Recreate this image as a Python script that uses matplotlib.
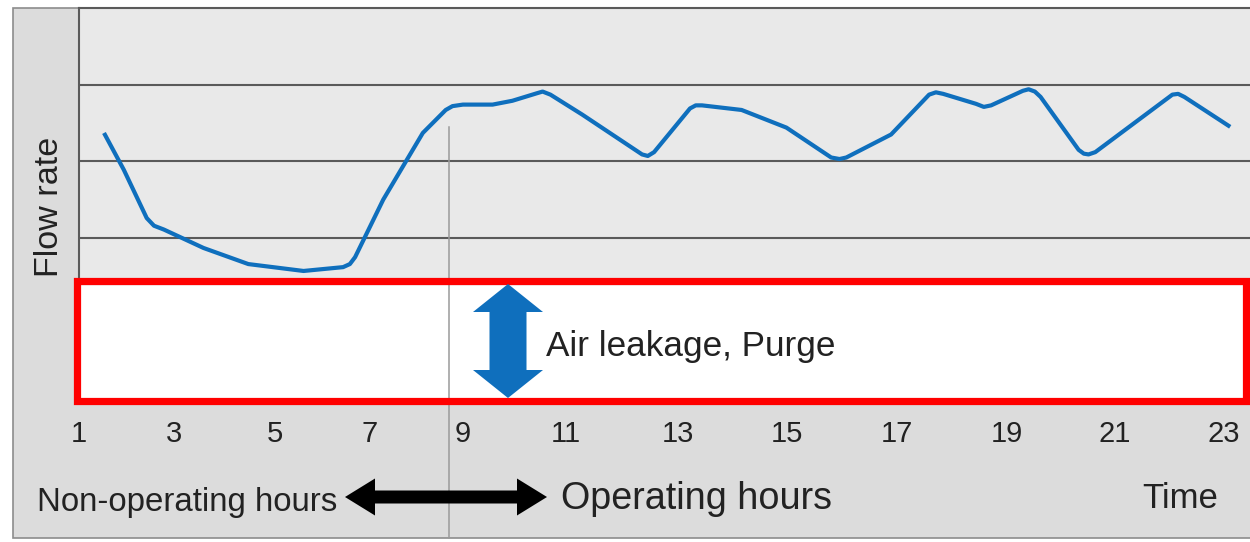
import numpy as np
import matplotlib.pyplot as plt
import matplotlib.patches as mpatches

plt.rcParams['font.family'] = ['Liberation Sans', 'DejaVu Sans']

# flow curve (hour of day, flow rate in grid units)
hours = [1.48, 1.86, 2.30, 2.44, 2.63, 3.39, 4.25, 5.31, 6.07, 6.20, 6.30, 6.84,
         7.60, 8.04, 8.17, 8.37, 8.94, 9.32, 9.80, 9.90, 10.05, 10.66, 11.81, 11.92,
         12.04, 12.73, 12.84, 12.96, 13.72, 14.58, 15.44, 15.60, 15.73, 16.59, 17.32,
         17.45, 17.59, 18.22, 18.37, 18.51, 19.12, 19.23, 19.35, 19.46, 20.19, 20.29,
         20.38, 20.51, 21.99, 22.10, 22.22, 23.10]
flow = [2.37, 1.89, 1.26, 1.16, 1.11, 0.87, 0.66, 0.57, 0.62, 0.66, 0.75, 1.50,
        2.37, 2.67, 2.72, 2.74, 2.74, 2.79, 2.89, 2.91, 2.87, 2.61, 2.09, 2.07,
        2.12, 2.69, 2.73, 2.73, 2.67, 2.44, 2.05, 2.03, 2.05, 2.35, 2.87,
        2.90, 2.88, 2.75, 2.71, 2.73, 2.92, 2.94, 2.91, 2.84, 2.15, 2.10,
        2.09, 2.12, 2.87, 2.88, 2.84, 2.45]

tick_pos = [1.0, 2.82, 4.77, 6.57, 8.37, 10.34, 12.50, 14.60, 16.71, 18.81, 20.88, 22.98]
tick_labels = ['1', '3', '5', '7', '9', '11', '13', '15', '17', '19', '21', '23']
grid_levels = [1, 2, 3]
op_start = 8.10

blue = '#0f6fbd'
dark = '#222222'

fig = plt.figure(figsize=(12.5, 5.42), dpi=100)
fig.patch.set_facecolor('white')

# background layer in pixel units
bg = fig.add_axes([0, 0, 1, 1], zorder=0)
bg.set_xlim(0, 1250)
bg.set_ylim(542, 0)
bg.axis('off')
bg.add_patch(mpatches.Rectangle((12.5, 8), 1250, 529.5, facecolor='#dcdcdc',
                                edgecolor='#8c8c8c', lw=1.2))
bg.add_patch(mpatches.Rectangle((76.5, 281), 1169.5, 119.5, facecolor='white', lw=0))

# plot area
ax = fig.add_axes([79 / 1250, 1 - 284 / 542, 1 - 79 / 1250, 276 / 542], zorder=1)
ax.set_facecolor('#e9e9e9')
ax.set_xlim(1.0765, 23.48)
ax.set_ylim(0.4, 4.0)
for y in grid_levels:
    ax.axhline(y, color='#5a5a5a', lw=1.5, zorder=1)
ax.plot(hours, flow, color=blue, lw=3, solid_joinstyle='round',
        solid_capstyle='butt', zorder=3)
ax.plot([op_start, op_start], [2.45, -2.91], color='#9a9a9a', lw=1.1,
        clip_on=False, zorder=2)
ax.set_yticks([])
ax.set_xticks(tick_pos, tick_labels)
ax.tick_params(axis='x', length=0, pad=98, labelsize=21, labelcolor=dark)
for s in ['left', 'top', 'bottom']:
    ax.spines[s].set_color('#5a5a5a')
    ax.spines[s].set_linewidth(1.5)
ax.spines['right'].set_visible(False)

# overlay for arrows, frame and labels
top = fig.add_axes([0, 0, 1, 1], zorder=2)
top.set_xlim(0, 1250)
top.set_ylim(542, 0)
top.axis('off')
top.patch.set_alpha(0)
top.add_patch(mpatches.Rectangle((76.5, 281), 1169.5, 119.5, fill=False,
                                 edgecolor='#ff0000', lw=5.2))

for d in (-1, 1):
    top.add_patch(mpatches.FancyArrow(446, 497, d * 101, 0, width=13, head_width=37,
                                      head_length=30, length_includes_head=True,
                                      color='black', lw=0))
    top.add_patch(mpatches.FancyArrow(508, 341, 0, d * 57, width=37, head_width=70,
                                      head_length=28, length_includes_head=True,
                                      color=blue, lw=0))

top.text(546, 356, 'Air leakage, Purge', ha='left', va='baseline', color=dark, fontsize=25.3)
top.text(37, 511, 'Non-operating hours', ha='left', va='baseline', color=dark, fontsize=23.8)
top.text(561, 509, 'Operating hours', ha='left', va='baseline', color=dark, fontsize=27.2)
top.text(1218, 508, 'Time', ha='right', va='baseline', color=dark, fontsize=25)
top.text(49, 207, 'Flow rate', rotation=90, ha='center', va='center', color=dark,
         fontsize=24.6)

fig.savefig('out.png', dpi=100)
